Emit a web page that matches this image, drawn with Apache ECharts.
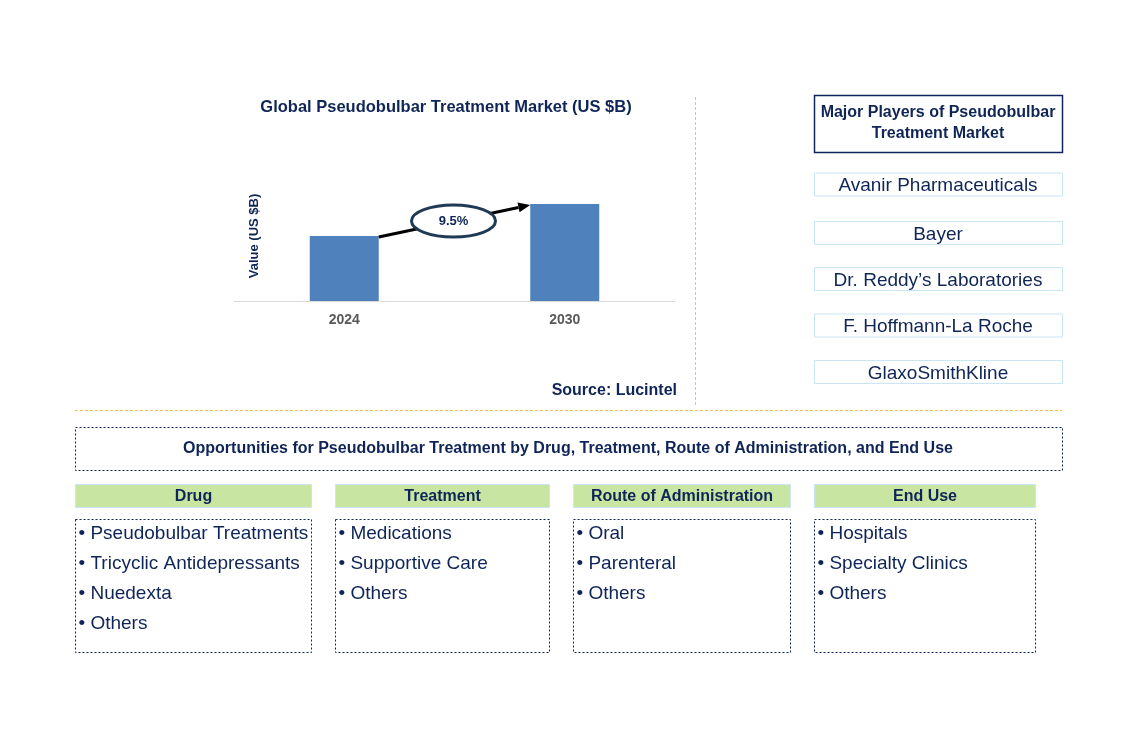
<!DOCTYPE html>
<html>
<head>
<meta charset="utf-8">
<style>
  html, body { margin: 0; padding: 0; background: #fff; }
  #main { width: 1127px; height: 733px; }
</style>
<script src="https://cdn.jsdelivr.net/npm/echarts@6/dist/echarts.min.js"></script>
</head>
<body>
<div id="main"></div>
<script>
// chart data
var years = ['2024', '2030'];
var marketValues = [0.65, 0.97];
var cagrLabel = '9.5%';
var chartTitle = 'Global Pseudobulbar Treatment Market (US $B)';
var yAxisName = 'Value (US $B)';
var sourceText = 'Source: Lucintel';

var playersTitle = ['Major Players of Pseudobulbar', 'Treatment Market'];
var players = ['Avanir Pharmaceuticals', 'Bayer', 'Dr. Reddy\u2019s Laboratories', 'F. Hoffmann-La Roche', 'GlaxoSmithKline'];

var oppTitle = 'Opportunities for Pseudobulbar Treatment by Drug, Treatment, Route of Administration, and End Use';
var segHeaders = ['Drug', 'Treatment', 'Route of Administration', 'End Use'];
var drugItems = ['Pseudobulbar Treatments', 'Tricyclic Antidepressants', 'Nuedexta', 'Others'];
var treatmentItems = ['Medications', 'Supportive Care', 'Others'];
var routeItems = ['Oral', 'Parenteral', 'Others'];
var endUseItems = ['Hospitals', 'Specialty Clinics', 'Others'];

var NAVY = '#0f2557';
var FONT = 'Arial, "Liberation Sans", sans-serif';

var myChart = echarts.init(document.getElementById('main'));

// static layout pieces
var els = [];
function txt(x, y, s, size, bold, align, color) {
  els.push({
    type: 'text', x: x, y: y, silent: true,
    style: {
      text: s, fill: color || NAVY, fontSize: size, fontFamily: FONT,
      fontWeight: bold ? 'bold' : 'normal',
      textAlign: align || 'center', textVerticalAlign: 'middle'
    }
  });
}
function box(x, y, w, h, stroke, fill, dash, lw) {
  els.push({
    type: 'rect', silent: true,
    shape: { x: x, y: y, width: w, height: h },
    style: { fill: fill || 'none', stroke: stroke, lineWidth: lw || 1, lineDash: dash || null }
  });
}

// title + source
txt(446, 107, chartTitle, 16.5, true);
txt(677, 391, sourceText, 16, true, 'right');

// dividers
els.push({ type: 'line', silent: true, shape: { x1: 695.5, y1: 97, x2: 695.5, y2: 405 },
  style: { stroke: '#f5c242', lineWidth: 1, lineDash: [3, 2] } });
els.push({ type: 'line', silent: true, shape: { x1: 75, y1: 410.5, x2: 1062, y2: 410.5 },
  style: { stroke: '#f5c242', lineWidth: 1, lineDash: [3, 2] } });

// major players
box(814.5, 95.5, 248, 57, NAVY, '#fff', null, 1.5);
txt(938, 113, playersTitle[0], 16, true);
txt(938, 134, playersTitle[1], 16, true);
var playerY = [184.5, 233, 279, 325.5, 372];
players.forEach(function (p, i) {
  box(814.5, playerY[i] - 11.5, 248, 23, '#c9e6f5', '#fff');
  txt(938, playerY[i] + 1.5, p, 19, false);
});

// opportunities
box(75.5, 427.5, 987, 43, NAVY, 'none', [2, 2]);
txt(568, 449, oppTitle, 16, true);

var colX = [75.5, 335.5, 573.5, 814.5];
var colW = [236, 214, 217, 221];
var lists = [drugItems, treatmentItems, routeItems, endUseItems];
segHeaders.forEach(function (h, i) {
  box(colX[i], 484.5, colW[i], 23, '#c9e6f5', '#c8e6a1');
  txt(colX[i] + colW[i] / 2, 497, h, 16, true);
  box(colX[i], 519.5, colW[i], 133, NAVY, 'none', [2, 2]);
  lists[i].forEach(function (it, j) {
    txt(colX[i] + 3, 534 + j * 30, '\u2022 ' + it, 19, false, 'left');
  });
});

var option = {
  animation: false,
  grid: { left: 234, right: 452, top: 171, bottom: 432 },
  xAxis: {
    type: 'category',
    data: years,
    axisLine: { lineStyle: { color: '#d9d9d9', width: 1 } },
    axisTick: { show: false },
    axisLabel: { color: '#595959', fontSize: 14, fontWeight: 'bold', fontFamily: FONT, margin: 12 }
  },
  yAxis: {
    type: 'value', min: 0, max: 1.3,
    name: yAxisName, nameLocation: 'middle', nameGap: -27,
    nameTextStyle: { color: NAVY, fontSize: 13, fontWeight: 'bold', fontFamily: FONT },
    axisLine: { show: false }, axisTick: { show: false },
    axisLabel: { show: false }, splitLine: { show: false }
  },
  series: [{
    type: 'bar',
    data: marketValues,
    barWidth: 69,
    itemStyle: { color: '#4f81bd' }
  }],
  graphic: { elements: els }
};
myChart.setOption(option);

// CAGR arrow between bar tops
var p0 = myChart.convertToPixel({ seriesIndex: 0 }, [0, marketValues[0]]);
var p1 = myChart.convertToPixel({ seriesIndex: 0 }, [1, marketValues[1]]);
var x0 = p0[0] + 34.5, y0 = p0[1] + 1;
var x1 = p1[0] - 34.5, y1 = p1[1] + 1;
var ang = Math.atan2(y1 - y0, x1 - x0);
var hl = 12, hw = 5;
var bx = x1 - hl * Math.cos(ang), by = y1 - hl * Math.sin(ang);
var cx = (x0 + x1) / 2 - 1, cy = (y0 + y1) / 2;
var arrowEls = [
  { type: 'line', silent: true, z: 10, shape: { x1: x0, y1: y0, x2: bx, y2: by },
    style: { stroke: '#000', lineWidth: 3 } },
  { type: 'polygon', silent: true, z: 10,
    shape: { points: [[x1, y1],
      [bx + hw * Math.sin(ang), by - hw * Math.cos(ang)],
      [bx - hw * Math.sin(ang), by + hw * Math.cos(ang)]] },
    style: { fill: '#000' } },
  { type: 'ellipse', silent: true, z: 11,
    shape: { cx: cx, cy: cy, rx: 42, ry: 16 },
    style: { fill: '#fff', stroke: '#1f3a55', lineWidth: 3 } },
  { type: 'text', silent: true, z: 12, x: cx, y: cy,
    style: { text: cagrLabel, fill: NAVY, fontSize: 13, fontWeight: 'bold', fontFamily: FONT,
      textAlign: 'center', textVerticalAlign: 'middle' } }
];
myChart.setOption({ graphic: { elements: els.concat(arrowEls) } });
</script>
</body>
</html>
